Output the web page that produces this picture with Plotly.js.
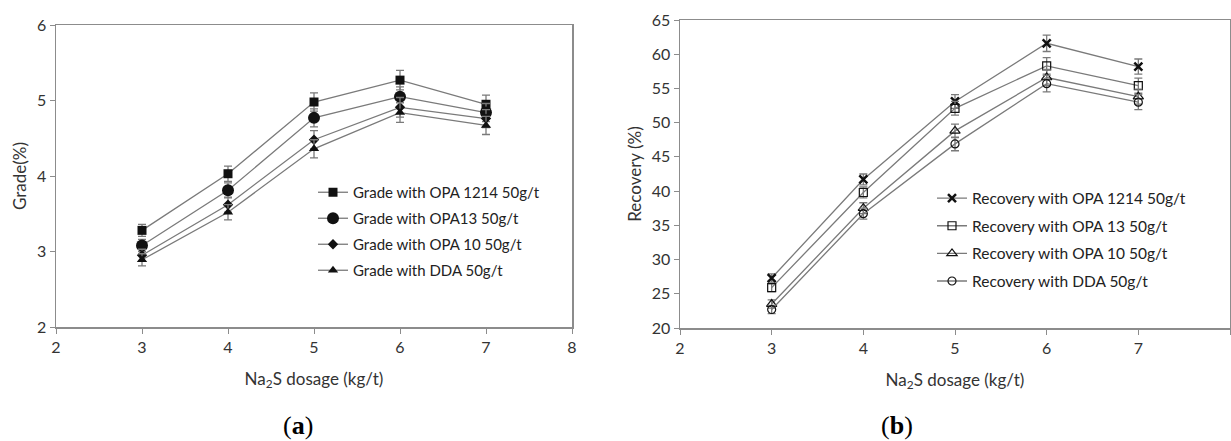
<!DOCTYPE html>
<html>
<head>
<meta charset="utf-8">
<script src="https://cdn.plot.ly/plotly-3.0.1.min.js"></script>
<style>html,body{margin:0;padding:0;background:#fff;}#chart{width:1231px;height:441px;}</style>
</head>
<body>
<div id="chart"></div>
<script>
// Na2S dosage (kg/t)
const dosage = [3, 4, 5, 6, 7];

// (a) Grade (%)
const gradeNames = ["Grade with OPA 1214 50g/t", "Grade with OPA13 50g/t", "Grade with OPA 10 50g/t", "Grade with DDA 50g/t"];
const gradeOPA1214 = [3.28, 4.03, 4.98, 5.27, 4.95];
const gradeOPA13   = [3.08, 3.81, 4.77, 5.05, 4.84];
const gradeOPA10   = [2.95, 3.62, 4.48, 4.91, 4.76];
const gradeDDA     = [2.89, 3.52, 4.36, 4.84, 4.67];
const gradeErr     = [0.08, 0.10, 0.12, 0.13, 0.12];

// (b) Recovery (%)
const recNames = ["Recovery with OPA 1214 50g/t", "Recovery with OPA 13 50g/t", "Recovery with OPA 10 50g/t", "Recovery with DDA 50g/t"];
const recOPA1214 = [27.3, 41.7, 53.1, 61.6, 58.2];
const recOPA13   = [25.9, 39.8, 52.1, 58.3, 55.4];
const recOPA10   = [23.5, 37.5, 48.8, 56.6, 53.8];
const recDDA     = [22.7, 36.7, 46.9, 55.7, 53.0];
const recErr     = [0.6, 0.8, 1.0, 1.2, 1.1];

const W = 1231, H = 441;
const px = v => v / W;
const py = v => 1 - v / H;

const lineCol = '#7a7a7a';
const markCol = '#111111';
const txtCol = '#333333';
const FONT = 'Lato, "Open Sans", sans-serif';

function tr(y, err, name, symbol, size, xa, ya, leg, grp) {
  return {
    x: dosage, y: y, name: name, type: 'scatter', mode: 'lines+markers',
    xaxis: xa, yaxis: ya, legend: leg, legendgroup: grp,
    line: {color: lineCol, width: 1.3},
    marker: {symbol: symbol, size: size, color: markCol, line: {color: markCol, width: symbol.indexOf('open') >= 0 ? 1.2 : (symbol === 'x-thin' ? 2.5 : 0)}},
    error_y: {type: 'data', array: err, visible: true, color: lineCol, thickness: 1.3, width: 4}
  };
}

const data = [
  tr(gradeOPA1214, gradeErr, gradeNames[0], 'square', 9, 'x', 'y', 'legend', 'a1'),
  tr(gradeOPA13, gradeErr, gradeNames[1], 'circle', 12, 'x', 'y', 'legend', 'a2'),
  tr(gradeOPA10, gradeErr, gradeNames[2], 'diamond', 8, 'x', 'y', 'legend', 'a3'),
  tr(gradeDDA, gradeErr, gradeNames[3], 'triangle-up', 9, 'x', 'y', 'legend', 'a4'),
  tr(recOPA1214, recErr, recNames[0], 'x-thin', 8, 'x2', 'y2', 'legend2', 'b1'),
  tr(recOPA13, recErr, recNames[1], 'square-open', 8, 'x2', 'y2', 'legend2', 'b2'),
  tr(recOPA10, recErr, recNames[2], 'triangle-up-open', 9, 'x2', 'y2', 'legend2', 'b3'),
  tr(recDDA, recErr, recNames[3], 'circle-open', 8, 'x2', 'y2', 'legend2', 'b4')
];

function xax(domain) {
  return {
    domain: domain, range: [2, 8], dtick: 1, tick0: 2, showgrid: false, zeroline: false,
    showline: true, mirror: true, linecolor: '#8c8c8c', linewidth: 1.5,
    ticks: 'outside', ticklen: 5, tickcolor: '#8c8c8c', tickwidth: 1,
    tickfont: {family: FONT, size: 16, color: txtCol},
    title: {text: 'Na<sub>2</sub>S dosage (kg/t)', font: {family: FONT, size: 17, color: txtCol}, standoff: 18}
  };
}
function yax(domain, range, dtick, title, anchor) {
  return {
    domain: domain, range: range, dtick: dtick, showgrid: false, zeroline: false, anchor: anchor,
    showline: true, mirror: true, linecolor: '#8c8c8c', linewidth: 1.5,
    ticks: 'outside', ticklen: 5, tickcolor: '#8c8c8c', tickwidth: 1,
    tickfont: {family: FONT, size: 16, color: txtCol},
    title: {text: title, font: {family: FONT, size: 17, color: txtCol}, standoff: 6}
  };
}

const layout = {
  width: W, height: H,
  margin: {l: 0, r: 0, t: 0, b: 0},
  paper_bgcolor: '#fff', plot_bgcolor: '#fff',
  showlegend: true,
  xaxis: Object.assign(xax([px(56), px(572)]), {anchor: 'y'}),
  yaxis: yax([py(327), py(25)], [2, 6], 1, 'Grade(%)', 'x'),
  xaxis2: Object.assign(xax([px(680), px(1230)]), {anchor: 'y2'}),
  yaxis2: yax([py(328), py(20)], [20, 65], 5, 'Recovery (%)', 'x2'),
  legend: {
    x: px(313), y: py(176), xanchor: 'left', yanchor: 'top',
    bgcolor: 'rgba(0,0,0,0)', borderwidth: 0, tracegroupgap: 3.5,
    font: {family: FONT, size: 15, color: '#222'}
  },
  legend2: {
    x: px(932), y: py(181.5), xanchor: 'left', yanchor: 'top',
    bgcolor: 'rgba(0,0,0,0)', borderwidth: 0, tracegroupgap: 4.5,
    font: {family: FONT, size: 15.5, color: '#222'}
  },
  annotations: [
    {text: '(<b>a</b>)', x: px(281), y: py(425), xref: 'paper', yref: 'paper', yanchor: 'middle', showarrow: false,
     font: {family: '"Liberation Serif", serif', size: 26, color: '#000'}},
    {text: '(<b>b</b>)', x: px(915), y: py(425), xref: 'paper', yref: 'paper', yanchor: 'middle', showarrow: false,
     font: {family: '"Liberation Serif", serif', size: 26, color: '#000'}}
  ]
};

Plotly.newPlot('chart', data, layout, {staticPlot: true, displayModeBar: false});
</script>
</body>
</html>
